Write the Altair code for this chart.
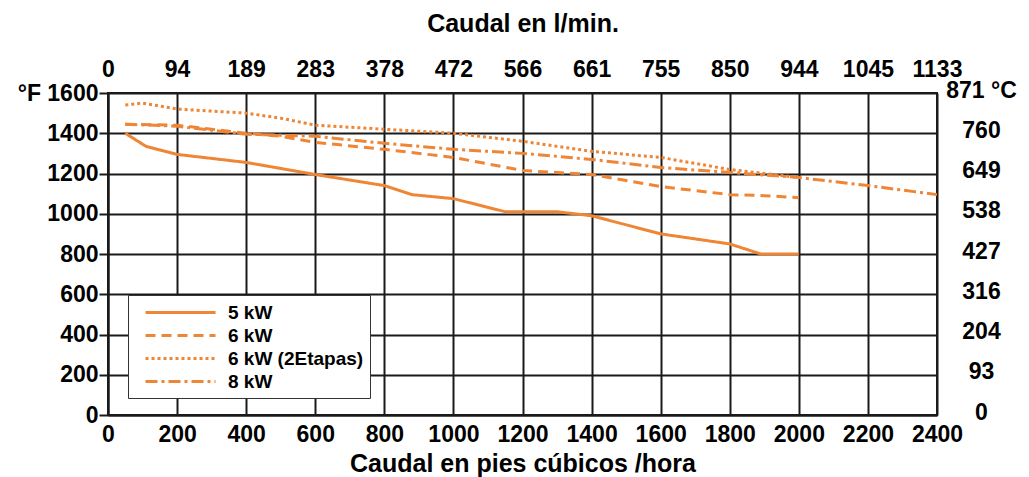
import altair as alt
import pandas as pd

# ---- data ----
series_names = ["5 kW", "6 kW", "6 kW (2Etapas)", "8 kW"]

flow_5kw = [50, 110, 200, 400, 600, 800, 880, 1000, 1150, 1300, 1400, 1600, 1800, 1890, 2000]
temp_5kw = [1400, 1335, 1295, 1255, 1195, 1140, 1095, 1075, 1010, 1010, 990, 900, 850, 800, 800]

flow_6kw = [50, 200, 300, 400, 500, 600, 800, 1000, 1200, 1400, 1600, 1800, 1900, 2000]
temp_6kw = [1445, 1440, 1420, 1400, 1385, 1355, 1320, 1280, 1215, 1195, 1135, 1095, 1090, 1080]

flow_6kw2 = [50, 100, 200, 400, 500, 600, 800, 1000, 1200, 1400, 1600, 1800, 2000]
temp_6kw2 = [1540, 1550, 1520, 1500, 1475, 1440, 1420, 1400, 1360, 1310, 1280, 1220, 1180]

flow_8kw = [50, 200, 400, 600, 800, 1000, 1200, 1400, 1600, 1800, 2000, 2200, 2400]
temp_8kw = [1445, 1435, 1395, 1385, 1350, 1320, 1300, 1270, 1230, 1205, 1180, 1140, 1095]

x_ticks = [0, 200, 400, 600, 800, 1000, 1200, 1400, 1600, 1800, 2000, 2200, 2400]
top_labels = ["0", "94", "189", "283", "378", "472", "566", "661", "755", "850", "944", "1045", "1133"]
y_ticks = [0, 200, 400, 600, 800, 1000, 1200, 1400, 1600]
right_labels = ["0", "93", "204", "316", "427", "538", "649", "760", "871 °C"]

dash_styles = [[1, 0], [10, 6], [3, 3], [12, 4, 3, 4]]

rows = []
for name, fx, ty in zip(series_names,
                        [flow_5kw, flow_6kw, flow_6kw2, flow_8kw],
                        [temp_5kw, temp_6kw, temp_6kw2, temp_8kw]):
    for i, (a, b) in enumerate(zip(fx, ty)):
        rows.append({"series": name, "x": a, "y": b, "order": i})
df = pd.DataFrame(rows)

FONT = "Liberation Sans"
ORANGE = "#ee8636"

xscale = alt.Scale(domain=[0, 2400], nice=False, zero=False)
yscale = alt.Scale(domain=[0, 1600], nice=False)

top_expr = "[" + ",".join("'%s'" % s for s in top_labels) + "][round(datum.value/200)]"
right_expr = "[" + ",".join("'%s'" % s for s in right_labels) + "][round(datum.value/200)]"

lines = alt.Chart(df).mark_line(color=ORANGE, strokeWidth=3).encode(
    x=alt.X("x:Q", scale=xscale,
            axis=alt.Axis(values=x_ticks, orient="bottom", grid=True, gridColor="#1a1a1a",
                          gridWidth=2, domainColor="#1a1a1a", domainWidth=2, ticks=False,
                          labelFont=FONT, labelFontSize=23, labelFontWeight="bold",
                          labelColor="black", labelPadding=8, format="d", labelOverlap=False,
                          labelFlush=False,
                          title="Caudal en pies cúbicos /hora", titleFont=FONT,
                          titleFontSize=25, titleFontWeight="bold", titleColor="black",
                          titlePadding=5)),
    y=alt.Y("y:Q", scale=yscale,
            axis=alt.Axis(values=y_ticks, orient="left", grid=True, gridColor="#1a1a1a",
                          gridWidth=2, domainColor="#1a1a1a", domainWidth=2,
                          tickColor="#1a1a1a", tickWidth=2, tickSize=9,
                          labelFont=FONT, labelFontSize=23, labelFontWeight="bold",
                          labelColor="black", labelPadding=1, format="d", labelOverlap=False,
                          labelFlush=False,
                          labelExpr="datum.value == 1600 ? '°F 1600' : datum.label",
                          title=None)),
    strokeDash=alt.StrokeDash("series:N",
                              scale=alt.Scale(domain=series_names, range=dash_styles),
                              legend=alt.Legend(title=None, orient="none", legendX=20, legendY=202,
                                                fillColor="white", strokeColor="#333333",
                                                padding=6, symbolType="M0,0H7",
                                                symbolSize=400, symbolStrokeWidth=3,
                                                symbolStrokeColor=ORANGE,
                                                labelFont=FONT, labelFontSize=19,
                                                labelFontWeight="bold", labelColor="black",
                                                labelOffset=71, rowPadding=1,
                                                labelLimit=300)),
    order="order:Q",
)

axes2 = alt.Chart(df).mark_point(opacity=0).encode(
    x=alt.X("x:Q", scale=xscale,
            axis=alt.Axis(values=x_ticks, orient="top", grid=False, domain=False, ticks=False,
                          labelFont=FONT, labelFontSize=23, labelFontWeight="bold",
                          labelColor="black", labelPadding=12, labelExpr=top_expr,
                          labelOverlap=False, labelFlush=False,
                          title="Caudal en l/min.", titleFont=FONT, titleFontSize=25,
                          titleFontWeight="bold", titleColor="black", titlePadding=22)),
    y=alt.Y("y:Q", scale=yscale,
            axis=alt.Axis(values=y_ticks, orient="right", grid=False, domain=False, ticks=False,
                          labelFont=FONT, labelFontSize=23, labelFontWeight="bold",
                          labelColor="black", labelPadding=44, labelAlign="center",
                          labelOffset=-3, labelExpr=right_expr, title=None,
                          labelOverlap=False, labelFlush=False)),
)

chart = alt.layer(lines, axes2).resolve_axis(x="independent", y="independent").properties(
    width=829, height=322,
    autosize=alt.AutoSizeParams(type="none"),
    padding={"left": 108, "top": 93, "right": 92, "bottom": 62},
    background="white",
).configure_view(stroke="#1a1a1a", strokeWidth=2)

chart.save("out.html", embed_options={"renderer": "svg", "actions": False})
